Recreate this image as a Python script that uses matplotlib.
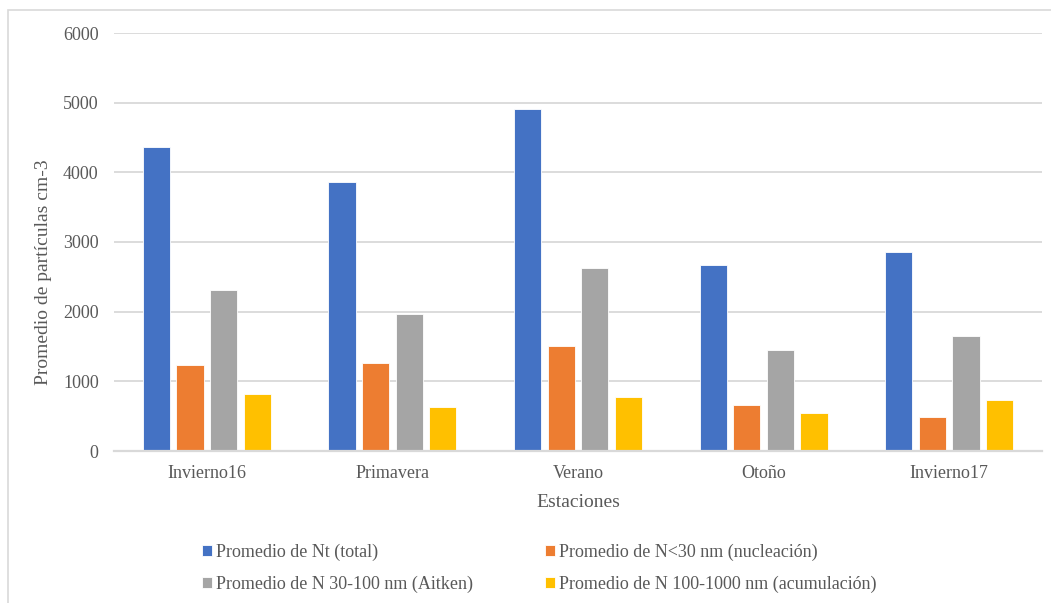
import matplotlib
matplotlib.use("Agg")
import matplotlib.pyplot as plt
import numpy as np
from matplotlib.patches import Rectangle

estaciones = ["Invierno16", "Primavera", "Verano", "Otoño", "Invierno17"]
nt_total = [4360, 3862, 4912, 2672, 2863]
n_nucleacion = [1229, 1258, 1506, 662, 481]
n_aitken = [2308, 1963, 2629, 1449, 1646]
n_acumulacion = [816, 633, 773, 552, 729]

series_labels = [
    "Promedio de Nt (total)",
    "Promedio de N<30 nm (nucleación)",
    "Promedio de N 30-100 nm (Aitken)",
    "Promedio de N 100-1000 nm (acumulación)",
]
colors = ["#4472C4", "#ED7D31", "#A5A5A5", "#FFC000"]
yticks = [0, 1000, 2000, 3000, 4000, 5000, 6000]

serif = ["Liberation Serif", "DejaVu Serif"]
plt.rcParams["font.family"] = serif
txt_color = "#595959"
grid_color = "#d9d9d9"

fig = plt.figure(figsize=(10.51, 6.03), dpi=100)
ax = fig.add_axes([114 / 1051, 152 / 603, 928 / 1051, 418 / 603])

# light border of the chart area (left and top only visible)
fig.patches.append(Rectangle((8 / 1051, -0.1), 1.2, (593 / 603) + 0.1,
                             transform=fig.transFigure, fill=False,
                             edgecolor=grid_color, linewidth=1.2))

x = np.arange(len(estaciones))
step = 0.181
width = 0.146
all_series = [nt_total, n_nucleacion, n_aitken, n_acumulacion]
handles = []
for j, vals in enumerate(all_series):
    b = ax.bar(x + (j - 1.5) * step, vals, width, color=colors[j],
               edgecolor="white", linewidth=0.6, label=series_labels[j], zorder=3)
    handles.append(b)

ax.set_xlim(-0.5, 4.5)
ax.set_ylim(0, 6000)
ax.set_yticks(yticks)
ax.set_xticks(x)
ax.set_xticklabels(estaciones)
ax.yaxis.grid(True, color=grid_color, linewidth=1.3, zorder=0)
ax.set_axisbelow(True)
for s in ["top", "right", "left"]:
    ax.spines[s].set_visible(False)
ax.spines["bottom"].set_color(grid_color)
ax.spines["bottom"].set_linewidth(1.6)
ax.spines["bottom"].set_zorder(4)
ax.tick_params(axis="both", length=0, labelsize=13, colors=txt_color)
ax.tick_params(axis="y", pad=11)
ax.tick_params(axis="x", pad=10)

ax.set_xlabel("Estaciones", fontsize=14, color=txt_color)
ax.xaxis.set_label_coords(0.5, -43 / 418)
ax.set_ylabel("Promedio de partículas cm-3", fontsize=14, color=txt_color)
ax.yaxis.set_label_coords(-62 / 928, (451 - 272) / 418)

# row-wise order like the original legend
order = [0, 2, 1, 3]
leg = fig.legend(handles=[handles[i] for i in order],
                 labels=[series_labels[i] for i in order],
                 loc="upper left", bbox_to_anchor=(186 / 1051, 1 - 527 / 603),
                 ncol=2, frameon=False, prop={"family": serif, "size": 13},
                 handlelength=0.55, handleheight=0.55,
                 handletextpad=0.2, columnspacing=4.0, labelspacing=0.85)
for t in leg.get_texts():
    t.set_color(txt_color)

fig.savefig("out.png", dpi=100)
